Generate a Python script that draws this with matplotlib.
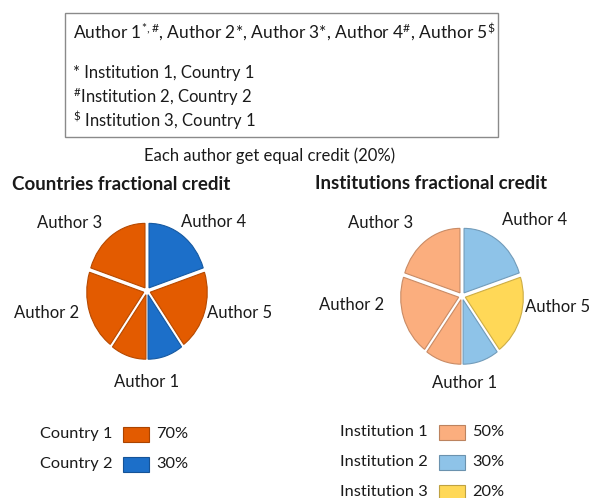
import matplotlib
matplotlib.use("Agg")
import matplotlib.pyplot as plt
from matplotlib.patches import Rectangle
from matplotlib.colors import to_rgb

# ---- data -------------------------------------------------------------
# Pie segments, clockwise from 12 o'clock. Author 1 has two affiliations,
# so its 20% credit is split into two halves.
segment_author = ["Author 4", "Author 5", "Author 1", "Author 1", "Author 2", "Author 3"]
segment_share = [20, 20, 10, 10, 20, 20]
segment_country = ["Country 2", "Country 1", "Country 2", "Country 1", "Country 1", "Country 1"]
segment_institution = ["Institution 2", "Institution 3", "Institution 2",
                       "Institution 1", "Institution 1", "Institution 1"]

countries = ["Country 1", "Country 2"]
institutions = ["Institution 1", "Institution 2", "Institution 3"]

country_colors = {"Country 1": "#E35B00", "Country 2": "#1C6FC9"}
institution_colors = {"Institution 1": "#FBAE7E", "Institution 2": "#8EC3E8",
                      "Institution 3": "#FFD857"}

# ---- figure -----------------------------------------------------------
W, H = 593, 498
DPI = 100
plt.rcParams["font.family"] = ["Lato", "DejaVu Sans"]
plt.rcParams["mathtext.fontset"] = "custom"
plt.rcParams["mathtext.rm"] = "Lato"
plt.rcParams["mathtext.it"] = "Lato:italic"
plt.rcParams["mathtext.bf"] = "Lato:bold"

fig = plt.figure(figsize=(W / DPI, H / DPI), dpi=DPI)
fig.patch.set_facecolor("white")

TXT = "#1a1a1a"
FS = 12


def fx(x):
    return x / W


def fy(y):
    return 1 - y / H


def ftext(x, y, s, size=FS, ha="left", va="center", **kw):
    fig.text(fx(x), fy(y), s, ha=ha, va=va, fontsize=size, color=TXT, **kw)


def darker(c, f=0.75):
    r, g, b = to_rgb(c)
    return (r * f, g * f, b * f)


# ---- affiliation box --------------------------------------------------
fig.patches.append(Rectangle((fx(65), fy(137)), fx(498) - fx(65), fy(13) - fy(137),
                             transform=fig.transFigure, fill=False,
                             edgecolor="#8a8a8a", linewidth=1.0))
ftext(73, 32, r"Author 1$^{\mathregular{*,\#}}$, Author 2*, Author 3*, "
              r"Author 4$^{\mathregular{\#}}$, Author 5$^{\mathregular{\$}}$", size=12.5)
ftext(73, 73, "* Institution 1, Country 1")
ftext(73, 97, r"$^{\mathregular{\#}}$Institution 2, Country 2")
ftext(73, 120, r"$^{\mathregular{\$}}$ Institution 3, Country 1")
ftext(270, 156, "Each author get equal credit (20%)", ha="center")


# ---- pies -------------------------------------------------------------
def draw_pie(cx, cy, rx, ry, colors):
    lim = 1.15
    ax = fig.add_axes([fx(cx - lim * rx), fy(cy + lim * ry),
                       2 * lim * rx / W, 2 * lim * ry / H])
    ax.pie(segment_share, colors=colors, startangle=90, counterclock=False,
           explode=[0.06] * len(segment_share),
           wedgeprops=dict(linewidth=0.8, edgecolor="none"))
    for w, c in zip(ax.patches, colors):
        w.set_edgecolor(darker(c, 0.8))
    ax.set_aspect("auto")
    ax.set_xlim(-lim, lim)
    ax.set_ylim(-lim, lim)
    ax.axis("off")
    return ax


left_colors = [country_colors[c] for c in segment_country]
right_colors = [institution_colors[i] for i in segment_institution]

draw_pie(147, 291, 57, 64.5, left_colors)
draw_pie(462, 296, 58, 64.5, right_colors)

# titles
ftext(12, 185, "Countries fractional credit", size=13.5, weight="bold")
ftext(315, 183, "Institutions fractional credit", size=13.5, weight="bold")

# author labels
left_labels = {"Author 3": (70, 223), "Author 4": (214, 222), "Author 2": (47, 313),
               "Author 5": (240, 313), "Author 1": (147, 382)}
right_labels = {"Author 3": (381, 223), "Author 4": (535, 220), "Author 2": (352, 305),
                "Author 5": (558, 307), "Author 1": (465, 383)}
for name, (x, y) in left_labels.items():
    ftext(x, y, name, ha="center")
for name, (x, y) in right_labels.items():
    ftext(x, y, name, ha="center")


# ---- legends ----------------------------------------------------------
def legend(groups, group_of_segment, palette, x_text, x_box, x_pct, y0, dy):
    for k, g in enumerate(groups):
        y = y0 + k * dy
        pct = sum(s for s, gg in zip(segment_share, group_of_segment) if gg == g)
        ftext(x_text, y, g, size=11.8)
        fig.patches.append(Rectangle((fx(x_box), fy(y + 7.5)), 26 / W, 15 / H,
                                     transform=fig.transFigure,
                                     facecolor=palette[g],
                                     edgecolor=darker(palette[g], 0.75),
                                     linewidth=0.8))
        ftext(x_pct, y, f"{pct}%", size=11.8)


legend(countries, segment_country, country_colors, 40, 123, 156, 434, 30)
legend(institutions, segment_institution, institution_colors, 340, 439, 472, 432, 30)

fig.savefig("out.png", dpi=DPI, facecolor="white")
